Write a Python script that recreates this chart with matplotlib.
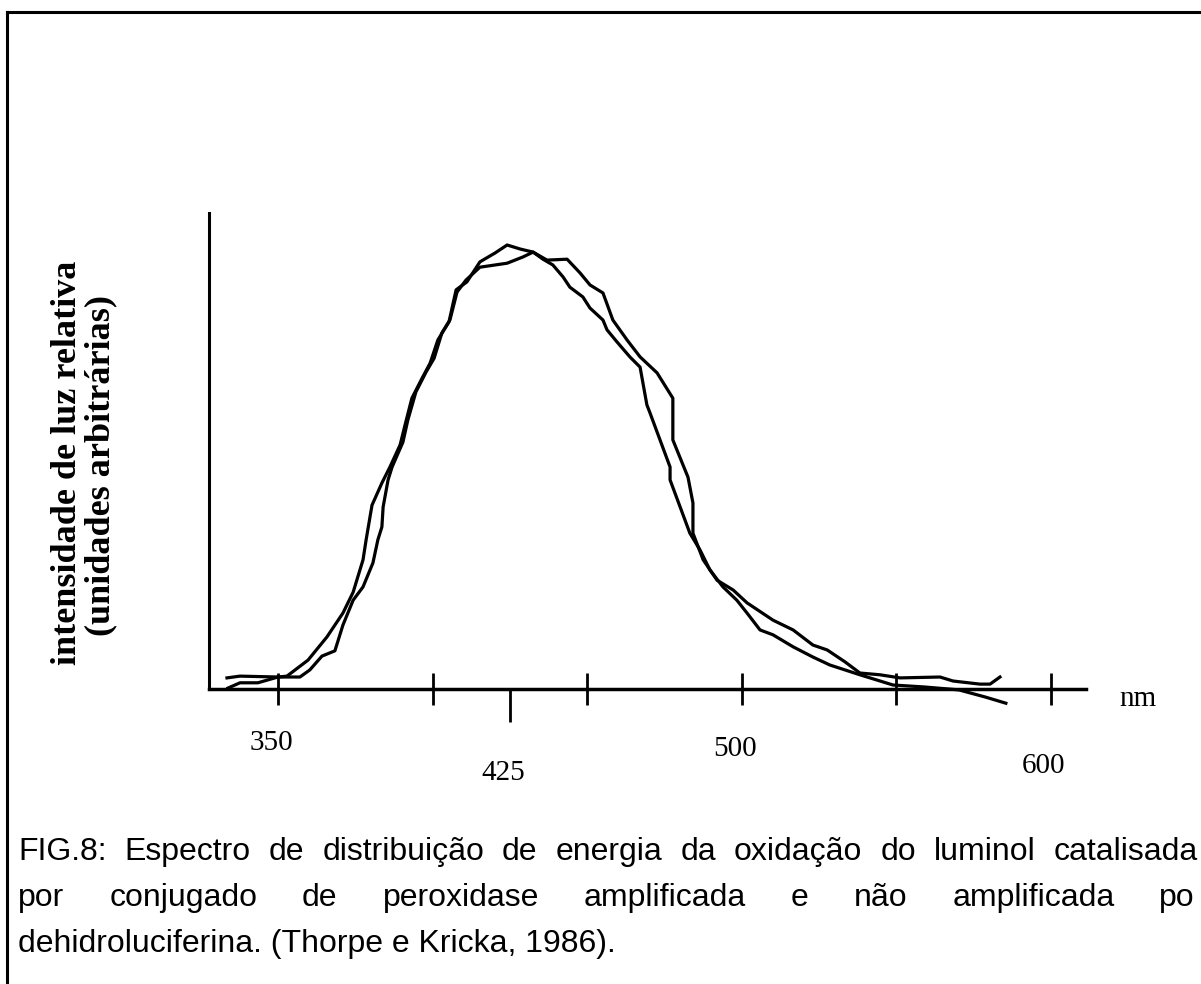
import matplotlib
matplotlib.use("Agg")
import matplotlib.pyplot as plt
from matplotlib.lines import Line2D

# wavelength (nm) and relative intensity (arbitrary units)
nm_a = [333.8, 337.7, 343.5, 350.0, 352.9, 359.7, 365.8, 371.0, 374.3, 377.5, 378.5,
        380.4, 383.6, 386.2, 389.5, 391.1, 393.3, 396.6, 399.2, 401.7, 405.3, 407.6,
        411.1, 415.3, 420.2, 424.1, 428.3, 432.5, 435.7, 438.9, 442.2, 444.4, 448.6,
        450.9, 455.1, 456.4, 459.6, 463.8, 467.1, 469.3, 470.3, 476.8, 476.8, 483.2,
        486.5, 489.7, 493.9, 498.4, 501.7, 505.9, 510.1, 516.6, 523.0, 528.5, 538.2,
        548.9, 559.2, 570.2, 578.7, 585.4]
int_a = [0.2, 1.4, 1.4, 2.7, 2.9, 6.5, 11.7, 17.1, 21.8, 29.1, 33.6,
         41.4, 46.4, 50.0, 55.0, 59.5, 65.5, 70.0, 73.4, 78.6, 82.7, 89.9,
         91.7, 96.2, 98.2, 100.0, 99.1, 98.4, 96.8, 95.5, 92.8, 90.5, 88.3,
         85.8, 83.1, 80.9, 78.2, 74.8, 72.5, 64.0, 62.2, 50.0, 47.1, 35.1,
         31.3, 26.8, 23.0, 20.0, 17.1, 13.3, 12.2, 9.5, 7.2, 5.4, 3.2,
         0.9, 0.45, -0.2, -1.8, -3.2]

nm_b = [333.5, 337.7, 350.0, 357.1, 360.3, 364.2, 368.4, 371.0, 374.3, 377.5, 380.7,
        382.3, 383.6, 384.0, 385.6, 386.9, 390.4, 392.0, 394.6, 397.9, 400.5, 403.0,
        405.6, 407.9, 410.8, 415.3, 420.2, 424.1, 429.2, 432.5, 437.0, 443.5, 447.7,
        450.9, 455.1, 458.3, 462.9, 467.1, 472.6, 477.7, 477.7, 482.6, 484.2, 484.2,
        487.5, 492.0, 497.2, 501.7, 510.1, 516.6, 523.0, 527.6, 533.4, 538.2, 544.7,
        551.2, 564.1, 568.3, 577.0, 580.3, 583.5]
int_b = [2.5, 2.9, 2.7, 2.7, 4.3, 7.4, 8.6, 14.4, 20.0, 23.0, 28.4,
         33.6, 36.5, 41.0, 47.1, 50.0, 55.6, 60.6, 66.9, 71.4, 74.5, 80.2,
         83.1, 89.4, 92.1, 95.0, 95.5, 95.9, 97.3, 98.4, 96.6, 96.8, 93.7,
         91.0, 89.2, 83.1, 78.6, 74.8, 71.2, 65.5, 56.1, 47.7, 41.9, 35.1,
         29.1, 24.5, 22.3, 19.4, 15.5, 13.3, 9.9, 8.8, 6.1, 3.6, 3.2,
         2.5, 2.7, 1.8, 1.1, 1.1, 2.7]

tick_nm = [350, 400, 450, 500, 550, 600]
label_nm = [350, 425, 500, 600]
label_txt = ["350", "425", "500", "600"]
label_y = [-12.2, -18.9, -13.5, -17.3]

caption1 = "FIG.8: Espectro de distribuição de energia da oxidação do luminol catalisada"
caption2 = "por conjugado de peroxidase amplificada e não amplificada po"
caption3 = "dehidroluciferina. (Thorpe e Kricka, 1986)."

W, H = 1201, 984
px_nm = 3.092       # pixels per nm
px_int = 4.44       # pixels per intensity unit
x350, y0 = 278, 689

fig = plt.figure(figsize=(W / 100, H / 100), dpi=100)
ax = fig.add_axes([0, 0, 1, 1])
ax.set_xlim(350 - x350 / px_nm, 350 + (W - x350) / px_nm)
ax.set_ylim(-(H - y0) / px_int, y0 / px_int)

ax.plot(nm_a, int_a, color="black", lw=2.3, solid_joinstyle="round")
ax.plot(nm_b, int_b, color="black", lw=2.3, solid_joinstyle="round")

for s in ["top", "right"]:
    ax.spines[s].set_visible(False)
ax.spines["left"].set_position(("data", 327.7))
ax.spines["left"].set_bounds(0, 107.2)
ax.spines["bottom"].set_position(("data", 0))
ax.spines["bottom"].set_bounds(327.7, 611.3)
ax.spines["left"].set_linewidth(2.2)
ax.spines["bottom"].set_linewidth(2.5)

ax.set_yticks([])
ax.set_xticks(tick_nm)
ax.set_xticklabels([])
ax.set_xticks([425], minor=True)
ax.tick_params(axis="x", which="major", direction="inout", length=23, width=2)
ax.tick_params(axis="x", which="minor", direction="out", length=24, width=2)
ax.patch.set_visible(False)

serif = "Liberation Serif"
for x, t, y in zip(label_nm, label_txt, label_y):
    ax.text(x - 2.3, y, t, ha="center", va="center", fontsize=21, family=serif)
ax.text(628.1, -2.25, "nm", ha="center", va="center", fontsize=21, family=serif)

fig.text(68 / W, 1 - 463 / H, "intensidade de luz relativa", rotation=90,
         ha="center", va="center", fontsize=26, fontweight="bold", family=serif)
fig.text(101 / W, 1 - 465 / H, "(unidades arbitrárias)", rotation=90,
         ha="center", va="center", fontsize=26, fontweight="bold", family=serif)

# caption: first two lines justified between the margins, last one left aligned
sans = "Liberation Sans"
cap_size = 23
renderer = fig.canvas.get_renderer()


def justified(line, y_px, x_left, x_right):
    words = line.split()
    texts = [fig.text(0, 1 - y_px / H, w, fontsize=cap_size, family=sans,
                      va="baseline") for w in words]
    widths = [t.get_window_extent(renderer).width for t in texts]
    gap = (x_right - x_left - sum(widths)) / (len(words) - 1)
    x = x_left
    for t, w in zip(texts, widths):
        t.set_x(x / W)
        x += w + gap


justified(caption1, 860, 18, 1198)
justified(caption2, 906, 18, 1195)
fig.text(18 / W, 1 - 952 / H, caption3, fontsize=cap_size, family=sans, va="baseline")

# page frame (left and top edges visible)
fig.add_artist(Line2D([7 / W, 7 / W], [0, 1 - 12 / H], color="black", lw=2.2,
                      transform=fig.transFigure))
fig.add_artist(Line2D([7 / W, 1], [1 - 12 / H, 1 - 12 / H], color="black", lw=2.2,
                      transform=fig.transFigure))

fig.savefig("out.png", dpi=100)
